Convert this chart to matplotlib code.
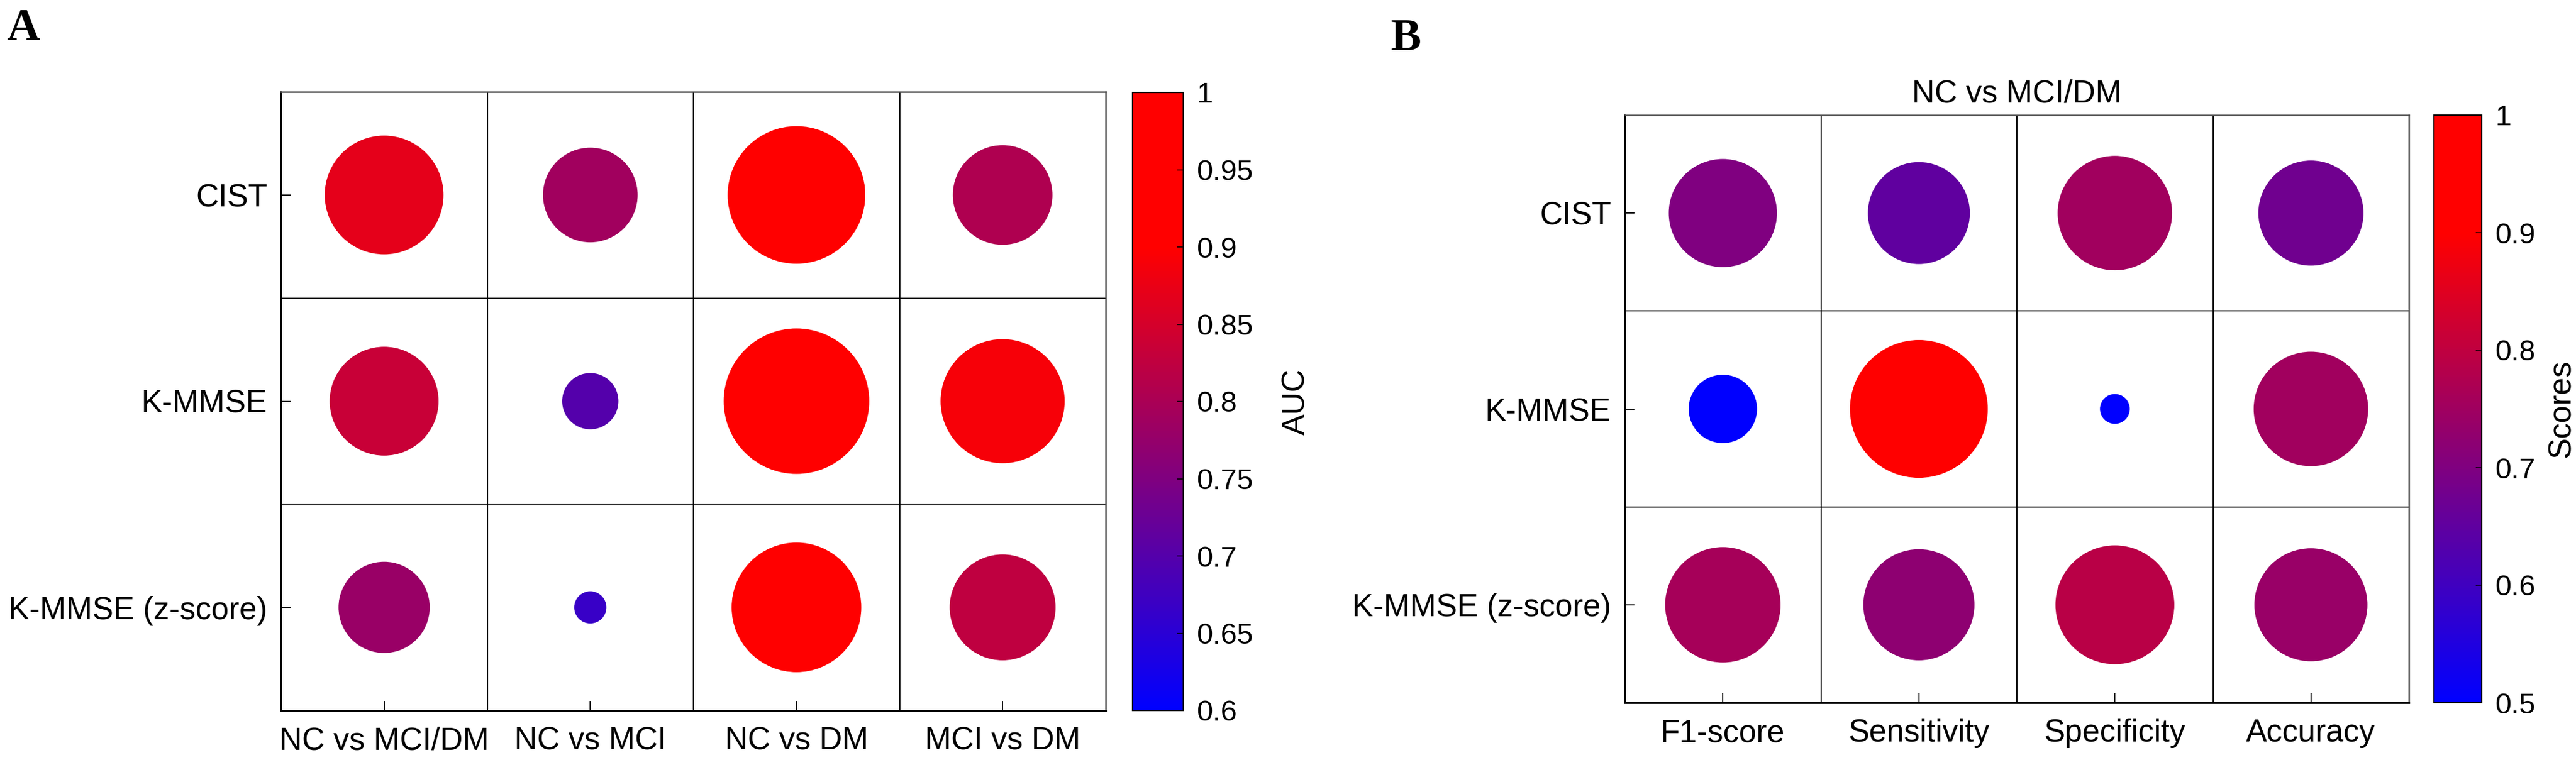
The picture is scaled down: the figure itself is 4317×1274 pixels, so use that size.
import numpy as np
import matplotlib
matplotlib.use('Agg')
import matplotlib.pyplot as plt
from matplotlib.colors import LinearSegmentedColormap, Normalize

plt.rcParams['font.family'] = ['Liberation Sans', 'DejaVu Sans']

# data
rows = ['CIST', 'K-MMSE', 'K-MMSE (z-score)']

cols_a = ['NC vs MCI/DM', 'NC vs MCI', 'NC vs DM', 'MCI vs DM']
auc_cist = [0.87, 0.79, 0.945, 0.805]
auc_kmmse = [0.835, 0.70, 0.98, 0.89]
auc_kmmse_z = [0.78, 0.667, 0.912, 0.825]

cols_b = ['F1-score', 'Sensitivity', 'Specificity', 'Accuracy']
sc_cist = [0.70, 0.652, 0.752, 0.676]
sc_kmmse = [0.44, 0.97, 0.30, 0.752]
sc_kmmse_z = [0.76, 0.724, 0.79, 0.74]
title_b = 'NC vs MCI/DM'

ticks_a = [0.6, 0.65, 0.7, 0.75, 0.8, 0.85, 0.9, 0.95, 1.0]
ticklabels_a = ['0.6', '0.65', '0.7', '0.75', '0.8', '0.85', '0.9', '0.95', '1']
ticks_b = [0.5, 0.6, 0.7, 0.8, 0.9, 1.0]
ticklabels_b = ['0.5', '0.6', '0.7', '0.8', '0.9', '1']

W, H, DPI = 4317, 1274, 100
fig = plt.figure(figsize=(W / DPI, H / DPI), dpi=DPI)
fig.patch.set_facecolor('white')


def box(l, t, r, b):
    # pixel box -> figure fraction
    return [l / W, 1 - b / H, (r - l) / W, (b - t) / H]


def bubble_sizes(vals, dmin, dmax):
    # bubble area goes linearly from data min to data max
    lo, hi = vals.min(), vals.max()
    area = dmin ** 2 + (dmax ** 2 - dmin ** 2) * (vals - lo) / (hi - lo)
    return area * (72 / DPI) ** 2


def panel(axbox, caxbox, vals, cols, vmin, dmin, dmax, cticks, clabels):
    vals = np.array(vals)
    ax = fig.add_axes(box(*axbox))
    cmap = LinearSegmentedColormap.from_list(
        'br', [(0, (0, 0, 1)), ((0.9 - vmin) / (1 - vmin), (1, 0, 0)), (1, (1, 0, 0))])
    norm = Normalize(vmin, 1)
    xx, yy = np.meshgrid(np.arange(1, len(cols) + 1), np.arange(1, len(rows) + 1))
    sc = ax.scatter(xx.ravel(), yy.ravel(), s=bubble_sizes(vals.ravel(), dmin, dmax),
                    c=vals.ravel(), cmap=cmap, norm=norm, linewidths=0, zorder=3)
    ax.set_xlim(0.5, len(cols) + 0.5)
    ax.set_ylim(len(rows) + 0.5, 0.5)
    for x in np.arange(1.5, len(cols)):
        ax.axvline(x, color='black', lw=1.4, zorder=1)
    for y in np.arange(1.5, len(rows)):
        ax.axhline(y, color='black', lw=1.4, zorder=1)
    ax.set_xticks(range(1, len(cols) + 1))
    ax.set_xticklabels(cols)
    ax.set_yticks(range(1, len(rows) + 1))
    ax.set_yticklabels(rows)
    ax.tick_params(direction='in', length=11.5, width=1.4, labelsize=38,
                   top=False, right=False)
    ax.tick_params(axis='y', pad=16.5)
    ax.tick_params(axis='x', pad=19)
    for s in ['left', 'bottom']:
        ax.spines[s].set_linewidth(2.2)
        ax.spines[s].set_color('black')
    for s in ['top', 'right']:
        ax.spines[s].set_linewidth(1.8)
        ax.spines[s].set_color('#505050')

    cax = fig.add_axes(box(*caxbox))
    cb = fig.colorbar(sc, cax=cax)
    cb.set_ticks(cticks)
    cb.set_ticklabels(clabels)
    cb.outline.set_linewidth(1.6)
    cax.tick_params(direction='in', length=7, width=1.1, labelsize=35, pad=16)
    return ax, cax


panel((471, 154, 1853, 1191), (1898, 155, 1983, 1191),
      [auc_cist, auc_kmmse, auc_kmmse_z], cols_a, 0.6, 54, 244,
      ticks_a, ticklabels_a)
panel((2723, 193, 4037, 1178), (4079, 193, 4159, 1178),
      [sc_cist, sc_kmmse, sc_kmmse_z], cols_b, 0.5, 50, 231,
      ticks_b, ticklabels_b)

fig.text(2172 / W, 1 - 673 / H, 'AUC', rotation=90, ha='center', va='center', fontsize=38)
fig.text(4293 / W, 1 - 685 / H, 'Scores', rotation=90, ha='center', va='center', fontsize=38)
fig.text(3380 / W, 1 - 171 / H, title_b, ha='center', va='baseline', fontsize=38)

fig.text(11 / W, 1 - 14 / H, 'A', family=['Liberation Serif', 'DejaVu Serif'],
         fontweight='bold', fontsize=55, va='top', ha='left')
fig.text(2331 / W, 1 - 31 / H, 'B', family=['Liberation Serif', 'DejaVu Serif'],
         fontweight='bold', fontsize=55, va='top', ha='left')

fig.savefig('out.png', dpi=DPI, facecolor='white')
